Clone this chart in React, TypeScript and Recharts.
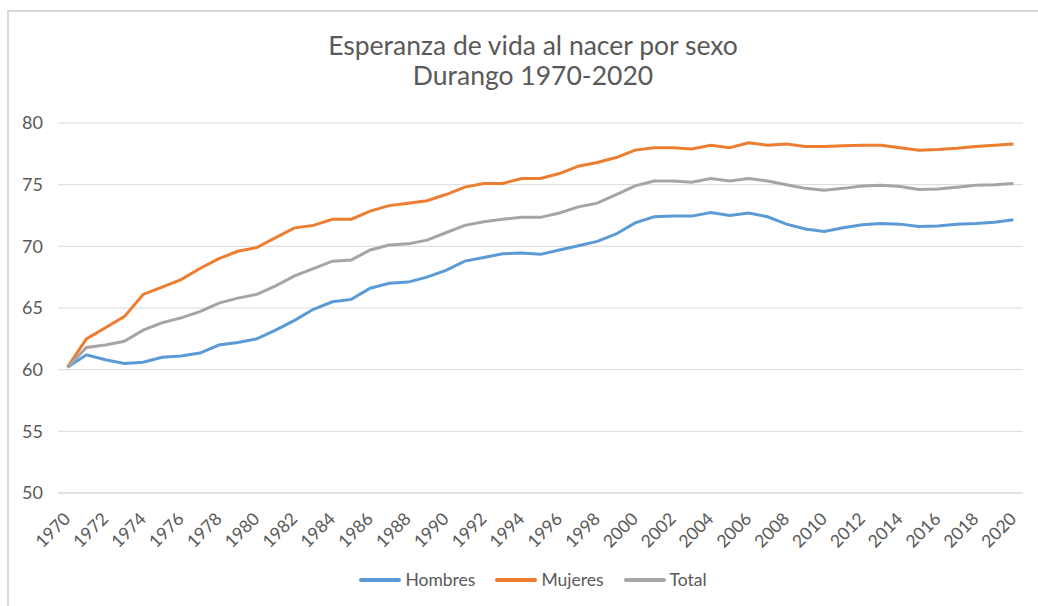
import React from "react";
import { LineChart, Line, XAxis, YAxis, CartesianGrid, Legend } from "recharts";

const YEARS = [
  1970, 1971, 1972, 1973, 1974, 1975, 1976, 1977, 1978, 1979,
  1980, 1981, 1982, 1983, 1984, 1985, 1986, 1987, 1988, 1989,
  1990, 1991, 1992, 1993, 1994, 1995, 1996, 1997, 1998, 1999,
  2000, 2001, 2002, 2003, 2004, 2005, 2006, 2007, 2008, 2009,
  2010, 2011, 2012, 2013, 2014, 2015, 2016, 2017, 2018, 2019, 2020,
];

const HOMBRES = [
  60.2, 61.2, 60.8, 60.5, 60.6, 61.0, 61.1, 61.35, 62.0, 62.2,
  62.5, 63.2, 64.0, 64.9, 65.5, 65.7, 66.6, 67.0, 67.1, 67.5,
  68.05, 68.8, 69.1, 69.4, 69.45, 69.35, 69.7, 70.05, 70.4, 71.0,
  71.9, 72.4, 72.45, 72.45, 72.75, 72.5, 72.7, 72.4, 71.8, 71.4,
  71.2, 71.5, 71.75, 71.85, 71.8, 71.6, 71.65, 71.8, 71.85, 71.95, 72.15,
];

const MUJERES = [
  60.2, 62.5, 63.4, 64.3, 66.1, 66.7, 67.3, 68.2, 69.0, 69.6,
  69.9, 70.7, 71.5, 71.7, 72.2, 72.2, 72.85, 73.3, 73.5, 73.7,
  74.2, 74.8, 75.1, 75.1, 75.5, 75.5, 75.9, 76.5, 76.8, 77.2,
  77.8, 78.0, 78.0, 77.9, 78.2, 78.0, 78.4, 78.2, 78.3, 78.1,
  78.1, 78.15, 78.2, 78.2, 78.0, 77.8, 77.85, 77.95, 78.1, 78.2, 78.3,
];

const TOTAL = [
  60.2, 61.8, 62.0, 62.3, 63.2, 63.8, 64.2, 64.7, 65.4, 65.8,
  66.1, 66.8, 67.6, 68.2, 68.8, 68.9, 69.7, 70.1, 70.2, 70.5,
  71.1, 71.7, 72.0, 72.2, 72.35, 72.35, 72.7, 73.2, 73.5, 74.2,
  74.9, 75.3, 75.3, 75.2, 75.5, 75.3, 75.5, 75.3, 75.0, 74.7,
  74.55, 74.7, 74.9, 74.95, 74.85, 74.6, 74.65, 74.8, 74.95, 75.0, 75.1,
];

const Y_TICKS = [50, 55, 60, 65, 70, 75, 80];

const SERIES = [
  { key: "Hombres", color: "#5B9BD5" },
  { key: "Mujeres", color: "#ED7D31" },
  { key: "Total", color: "#A5A5A5" },
];

const FONT = "Lato, 'Open Sans', sans-serif";
const TEXT = "#595959";

const data = YEARS.map((y, i) => ({
  year: String(y),
  Hombres: HOMBRES[i],
  Mujeres: MUJERES[i],
  Total: TOTAL[i],
}));

function YearTick({ x, y, payload }: any) {
  const ax = x + 4;
  const ay = y + 27;
  return (
    <text
      x={ax}
      y={ay}
      textAnchor="end"
      fill={TEXT}
      fontSize={17.5}
      fontFamily={FONT}
      transform={`rotate(-45, ${ax}, ${ay})`}
    >
      {payload.value}
    </text>
  );
}

function LegendBox() {
  return (
    <div
      style={{
        display: "flex",
        justifyContent: "center",
        gap: 20,
        marginLeft: 28,
        fontFamily: FONT,
        fontSize: 17.5,
        color: TEXT,
      }}
    >
      {SERIES.map((s) => (
        <div key={s.key} style={{ display: "flex", alignItems: "center", gap: 4 }}>
          <span
            style={{
              width: 42,
              height: 4,
              borderRadius: 2,
              backgroundColor: s.color,
              display: "inline-block",
            }}
          />
          <span>{s.key}</span>
        </div>
      ))}
    </div>
  );
}

export default function App() {
  return (
    <div
      style={{
        position: "fixed",
        left: 0,
        top: 0,
        width: 1038,
        height: 606,
        background: "#fff",
        overflow: "hidden",
      }}
    >
      {/* marco del gráfico */}
      <div
        style={{
          position: "absolute",
          left: 7,
          top: 10,
          width: 1100,
          height: 700,
          borderLeft: "2px solid #d9d9d9",
          borderTop: "2px solid #d9d9d9",
        }}
      />
      <div
        style={{
          position: "absolute",
          left: 0,
          top: 30,
          width: 1066,
          textAlign: "center",
          fontFamily: FONT,
          fontSize: 26.5,
          lineHeight: "30px",
          color: TEXT,
        }}
      >
        <div>Esperanza de vida al nacer por sexo</div>
        <div>Durango 1970-2020</div>
      </div>
      <div style={{ position: "absolute", left: 0, top: 0 }}>
        <LineChart
          width={1038}
          height={606}
          data={data}
          margin={{ top: 123, right: 15, bottom: 53, left: 0 }}
        >
          <CartesianGrid vertical={false} stroke="#d9d9d9" strokeWidth={1} />
          <XAxis
            dataKey="year"
            interval={1}
            height={60}
            padding={{ left: 9.5, right: 9.5 }}
            axisLine={{ stroke: "#d9d9d9" }}
            tickLine={false}
            tickSize={0}
            tickMargin={0}
            tick={<YearTick />}
          />
          <YAxis
            domain={[50, 80]}
            ticks={Y_TICKS}
            width={58}
            axisLine={false}
            tickLine={false}
            tickSize={0}
            tickMargin={15}
            tick={{ fill: TEXT, fontSize: 18, fontFamily: FONT }}
          />
          <Legend
            layout="horizontal"
            verticalAlign="middle"
            align="center"
            wrapperStyle={{ top: 569, left: 0, width: 1038 }}
            content={<LegendBox />}
          />
          {SERIES.map((s) => (
            <Line
              key={s.key}
              type="linear"
              dataKey={s.key}
              stroke={s.color}
              strokeWidth={3}
              dot={false}
              isAnimationActive={false}
            />
          ))}
        </LineChart>
      </div>
    </div>
  );
}
